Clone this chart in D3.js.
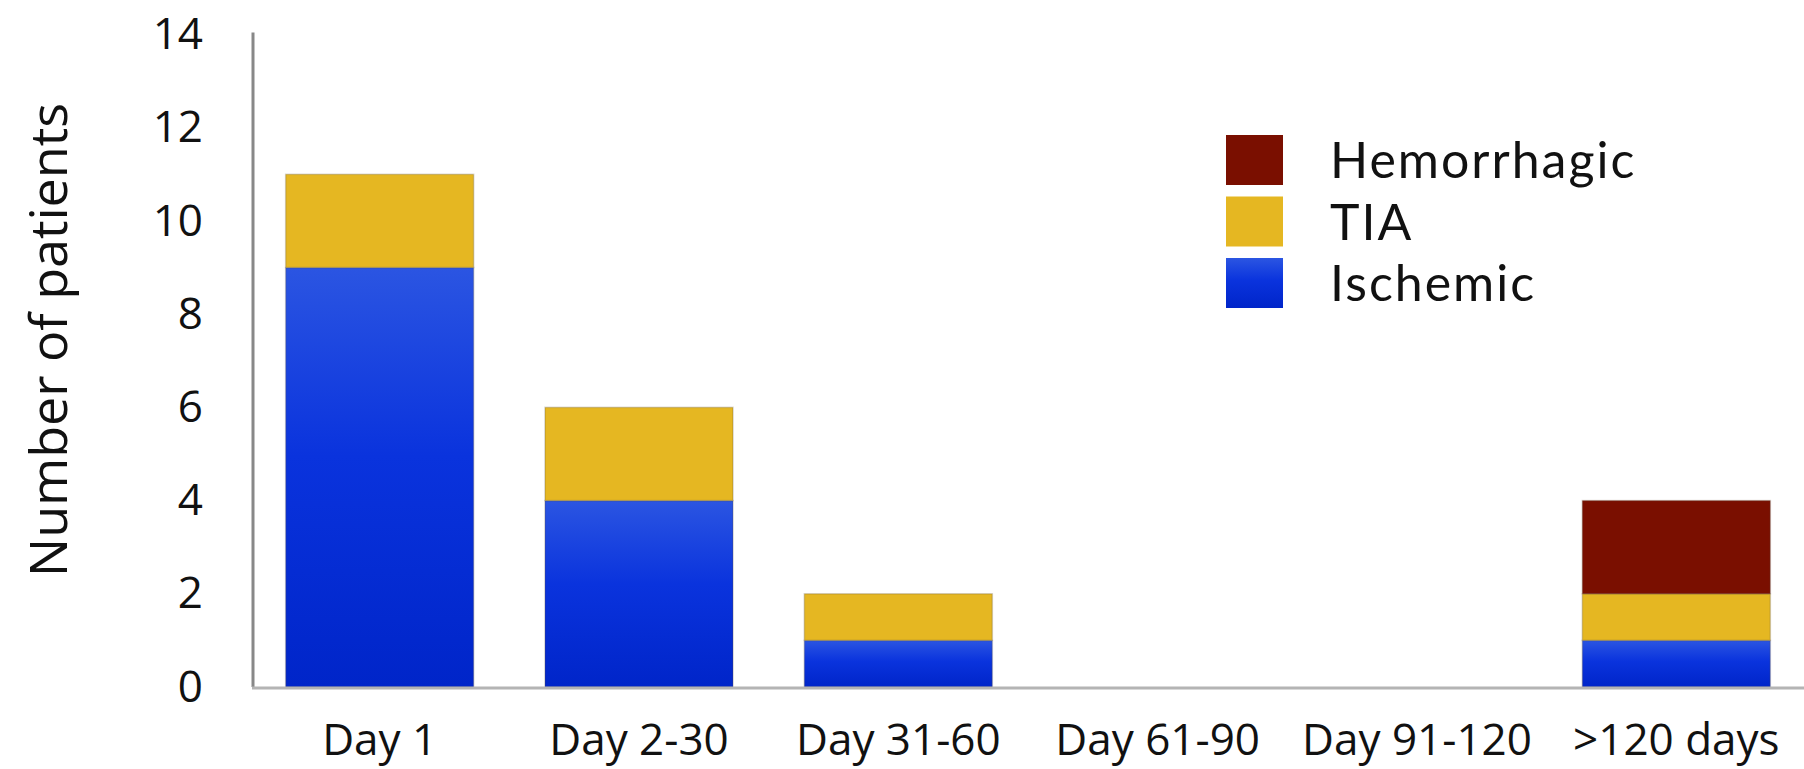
<!DOCTYPE html>
<html>
<head>
<meta charset="utf-8">
<script src="https://cdn.jsdelivr.net/npm/d3@7"></script>
<style>
  html, body { margin: 0; padding: 0; background: #fff; }
  svg { display: block; }
  text { font-family: "Open Sans", Lato, sans-serif; fill: #111; }
</style>
</head>
<body>
<svg id="chart" width="1804" height="769"></svg>
<script>
// data
var categories = ["Day 1", "Day 2-30", "Day 31-60", "Day 61-90", "Day 91-120", ">120 days"];
var ischemic    = [9, 4, 1, 0, 0, 1];
var tia         = [2, 2, 1, 0, 0, 1];
var hemorrhagic = [0, 0, 0, 0, 0, 2];
var seriesNames = ["Ischemic", "TIA", "Hemorrhagic"];
var yTicks = [0, 2, 4, 6, 8, 10, 12, 14];

var svg = d3.select("#chart");

// build rows for the stack
var rows = categories.map(function(c, i) {
	return { cat: c, Ischemic: ischemic[i], TIA: tia[i], Hemorrhagic: hemorrhagic[i] };
});
var stacked = d3.stack().keys(seriesNames)(rows);

var x = d3.scaleBand()
	.domain(categories)
	.range([250, 1806])
	.paddingInner(0.275)
	.paddingOuter(0.1375);

var y = d3.scaleLinear()
	.domain([0, 14])
	.range([687, 34.5]);

var fills = { Ischemic: "url(#blueGrad)", TIA: "#e5b722", Hemorrhagic: "#7a0f00" };

// gradient for the blue segments
var defs = svg.append("defs");
var g = defs.append("linearGradient").attr("id", "blueGrad")
	.attr("x1", 0).attr("y1", 0).attr("x2", 0).attr("y2", 1);
g.append("stop").attr("offset", "0%").attr("stop-color", "#2b55e2");
g.append("stop").attr("offset", "45%").attr("stop-color", "#0a33dd");
g.append("stop").attr("offset", "100%").attr("stop-color", "#0025c9");

// bars
var layers = svg.append("g").selectAll("g")
	.data(stacked)
	.enter().append("g")
	.attr("fill", function(d) { return fills[d.key]; });

layers.selectAll("rect")
	.data(function(d) { return d.filter(function(p) { return p[1] > p[0]; }); })
	.enter().append("rect")
	.attr("x", function(d) { return x(d.data.cat); })
	.attr("y", function(d) { return y(d[1]); })
	.attr("width", x.bandwidth())
	.attr("height", function(d) { return y(d[0]) - y(d[1]); })
	.attr("stroke", "rgba(90,80,60,0.25)")
	.attr("stroke-width", 1.5);

// axes lines
svg.append("line")
	.attr("x1", 253).attr("x2", 253)
	.attr("y1", y(14) - 2).attr("y2", y(0))
	.attr("stroke", "#888").attr("stroke-width", 3);
svg.append("line")
	.attr("x1", 252).attr("x2", 1804)
	.attr("y1", y(0) + 1).attr("y2", y(0) + 1)
	.attr("stroke", "#b4b4b4").attr("stroke-width", 3);

// y tick labels
var yAxis = d3.axisLeft(y).tickValues(yTicks).tickSize(0).tickPadding(0);
var gy = svg.append("g")
	.attr("transform", "translate(203,0)")
	.call(yAxis);
gy.select(".domain").remove();
gy.selectAll("text")
	.style("font-family", "\"Open Sans\", Lato, sans-serif")
	.style("font-size", "44px")
	.attr("fill", "#111");

// x labels
var xAxis = d3.axisBottom(x).tickSize(0).tickPadding(0);
var gx = svg.append("g")
	.attr("transform", "translate(0,755)")
	.call(xAxis);
gx.select(".domain").remove();
gx.selectAll("text")
	.style("font-family", "\"Open Sans\", Lato, sans-serif")
	.style("font-size", "44px")
	.attr("fill", "#111")
	.attr("y", 0)
	.attr("dy", "0");

// y title
svg.append("text")
	.attr("transform", "translate(67,340) rotate(-90)")
	.attr("text-anchor", "middle")
	.style("font-size", "52px")
	.text("Number of patients");

// legend
var legendItems = ["Hemorrhagic", "TIA", "Ischemic"];
var legend = svg.append("g").selectAll("g")
	.data(legendItems)
	.enter().append("g")
	.attr("transform", function(d, i) { return "translate(1226," + (135 + i * 61.5) + ")"; });
legend.append("rect")
	.attr("width", 57).attr("height", 50)
	.attr("fill", function(d) { return fills[d]; });
legend.append("text")
	.attr("x", 104).attr("y", 25)
	.attr("dy", "0.36em")
	.style("font-family", "Lato, \"Open Sans\", sans-serif")
	.style("font-size", "50px")
	.style("letter-spacing", "2px")
	.text(function(d) { return d; });
</script>
</body>
</html>
